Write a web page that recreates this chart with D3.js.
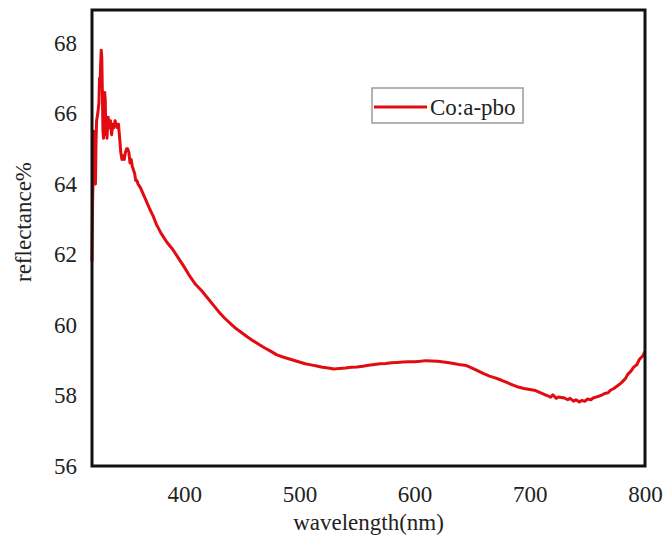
<!DOCTYPE html>
<html>
<head>
<meta charset="utf-8">
<script src="https://cdn.jsdelivr.net/npm/d3@7"></script>
<style>
  body { margin: 0; background: #fff; }
  svg text { font-family: "Liberation Serif", "Times New Roman", serif; fill: #222; }
</style>
</head>
<body>
<svg id="chart" width="668" height="546"></svg>
<script>
// reflectance spectrum
const wavelength = [
  320, 320.5, 321, 321.5, 322, 322.5, 323, 323.5, 324, 325, 326, 326.5, 327, 327.5, 328, 328.5,
  329, 329.5, 330, 330.5, 331, 331.5, 332, 332.5, 333, 334, 335, 336, 337, 338, 339, 340,
  341, 342, 343, 344, 345, 346, 347, 348, 349, 350, 351, 352, 353, 354, 355, 356, 357, 358,
  359, 360, 362, 364, 366, 368, 370, 373, 376, 380, 385, 390, 395, 400, 405, 410, 415, 420,
  425, 430, 435, 440, 445, 450, 455, 460, 465, 470, 475, 480, 485, 490, 495, 500, 505, 510,
  515, 520, 525, 530, 535, 540, 545, 550, 555, 560, 565, 570, 575, 580, 585, 590, 595, 600,
  605, 610, 615, 620, 625, 630, 635, 640, 645, 650, 655, 660, 665, 670, 675, 680, 685, 690,
  695, 700, 705, 710, 715, 718, 720, 723, 725, 730, 733, 735, 738, 740, 743, 745, 748, 750,
  753, 755, 758, 760, 763, 765, 768, 770, 773, 775, 778, 780, 783, 785, 788, 790, 793, 795,
  798, 800
];
const reflectance = [
  61.8, 63.5, 64.2, 65.5, 65.3, 64.3, 64.0, 65.2, 65.8, 66.0, 66.3, 67.0, 66.8, 67.4, 67.8, 67.6,
  66.6, 65.5, 65.3, 66.0, 66.6, 66.4, 65.4, 65.8, 65.3, 65.9, 65.6, 65.8, 65.4, 65.7, 65.6, 65.8,
  65.7, 65.6, 65.7, 65.3, 64.9, 64.7, 64.8, 64.7, 64.9, 65.0, 65.0, 64.9, 64.6, 64.7, 64.5, 64.4, 64.3, 64.1,
  64.1, 64.0, 63.9, 63.75, 63.6, 63.45, 63.3, 63.1, 62.85, 62.6, 62.35, 62.15, 61.9, 61.65, 61.38, 61.15, 60.98, 60.78,
  60.58, 60.38, 60.2, 60.05, 59.9, 59.78, 59.66, 59.55, 59.45, 59.35, 59.26, 59.16, 59.1, 59.05, 59.0, 58.95, 58.9, 58.87,
  58.84, 58.8, 58.78, 58.75, 58.77, 58.78, 58.8, 58.81, 58.83, 58.86, 58.88, 58.9, 58.91, 58.93, 58.94, 58.95, 58.96, 58.96,
  58.97, 58.99, 58.98, 58.97, 58.95, 58.93, 58.9, 58.87, 58.85, 58.78, 58.7, 58.62, 58.55, 58.5, 58.44, 58.37, 58.3, 58.24,
  58.2, 58.17, 58.14, 58.07, 58.0, 57.95, 58.02, 57.92, 57.96, 57.93, 57.88, 57.92, 57.84, 57.88, 57.82, 57.86, 57.84, 57.9,
  57.88, 57.93, 57.96, 57.98, 58.02, 58.06, 58.08, 58.15, 58.2, 58.25, 58.32, 58.38, 58.48, 58.6, 58.7, 58.8, 58.88, 59.02,
  59.12, 59.25
];
const xTicks = [400, 500, 600, 700, 800];
const yTicks = [56, 58, 60, 62, 64, 66, 68];
const seriesName = "Co:a-pbo";

const svg = d3.select("#chart");
const margin = {left: 92, top: 10, right: 23, bottom: 80};
const width = +svg.attr("width"), height = +svg.attr("height");
const innerW = width - margin.left - margin.right,
      innerH = height - margin.top - margin.bottom;

const x = d3.scaleLinear().domain([320, 800]).range([margin.left, margin.left + innerW]);
const y = d3.scaleLinear().domain([56, 68.94]).range([margin.top + innerH, margin.top]);

// axes (labels only, no tick marks)
const xAxis = svg.append("g")
  .attr("transform", `translate(0,${margin.top + innerH})`)
  .call(d3.axisBottom(x).tickValues(xTicks).tickSize(0).tickPadding(20));
xAxis.select(".domain").remove();
xAxis.selectAll("text").style("font-size", "23px");

const yAxis = svg.append("g")
  .attr("transform", `translate(${margin.left},0)`)
  .call(d3.axisLeft(y).tickValues(yTicks).tickSize(0).tickPadding(15));
yAxis.select(".domain").remove();
yAxis.selectAll("text").style("font-size", "23px");

// the curve
const line = d3.line()
  .x((d, i) => x(wavelength[i]))
  .y(d => y(d));

svg.append("path")
  .datum(reflectance)
  .attr("fill", "none")
  .attr("stroke", "#e30b12")
  .attr("stroke-width", 3)
  .attr("stroke-linejoin", "round")
  .attr("d", line);

// plot frame
svg.append("rect")
  .attr("x", margin.left)
  .attr("y", margin.top)
  .attr("width", innerW)
  .attr("height", innerH)
  .attr("fill", "none")
  .attr("stroke", "#111")
  .attr("stroke-width", 3);

// axis titles
svg.append("text")
  .attr("x", margin.left + innerW / 2)
  .attr("y", 530)
  .attr("text-anchor", "middle")
  .style("font-size", "23px")
  .text("wavelength(nm)");

svg.append("text")
  .attr("transform", "translate(23,222) rotate(-90)")
  .attr("text-anchor", "middle")
  .attr("dy", "0.35em")
  .style("font-size", "23px")
  .text("reflectance%");

// legend
const legend = svg.append("g").attr("transform", "translate(372,88)");
legend.append("rect")
  .attr("width", 151).attr("height", 35)
  .attr("fill", "#fff")
  .attr("stroke", "#9a9a9a")
  .attr("stroke-width", 1.5);
legend.append("line")
  .attr("x1", 2).attr("x2", 55)
  .attr("y1", 19).attr("y2", 19)
  .attr("stroke", "#e30b12")
  .attr("stroke-width", 3);
legend.append("text")
  .attr("x", 58).attr("y", 27)
  .style("font-size", "23px")
  .text(seriesName);
</script>
</body>
</html>
